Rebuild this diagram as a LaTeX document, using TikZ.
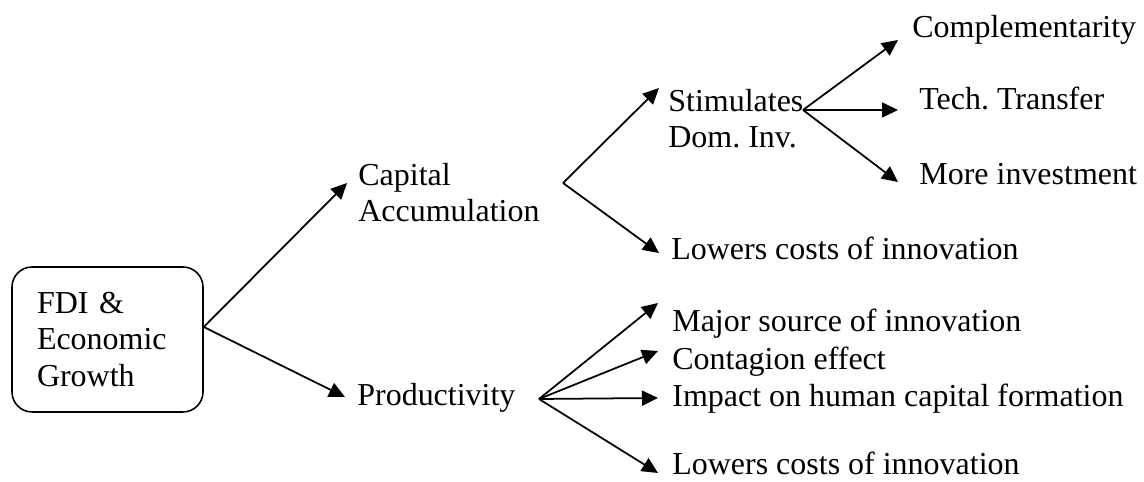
\documentclass[tikz,border=0pt]{standalone}
\usepackage{fontspec}
\setmainfont{Liberation Serif}
\usetikzlibrary{arrows.meta}
\tikzset{%
    growth box/.style={
        draw,
        line width=0.9pt,
        rounded corners=0.4cm,
        align=left,
        text width=2.82cm,
        inner xsep=0.5cm,
        minimum width=3.82cm,
        minimum height=2.9cm
    },
    branch label/.style={
        anchor=base west,
        inner sep=0pt,
        align=left
    },
    branch arrow/.style={
        line width=1pt,
        -{Triangle[length=0.32cm, width=0.3cm]}
    },
}

\begin{document}
\begin{tikzpicture}[x=0.02cm, y=-0.02cm, font=\fontsize{18.2}{21}\selectfont\frenchspacing]
        \useasboundingbox (0,0) rectangle (1144,482);

        \node [growth box] (fdi) at (107.5,339.5) {FDI \&\\Economic\\Growth};

        % first level (base = last line)
        \node [branch label] (capital) at (358,222) {Capital\\Accumulation};
        \node [branch label] (productivity) at (357,406) {Productivity};

        % capital accumulation
        \node [branch label] (stimulates) at (668,148) {Stimulates\\Dom. Inv.};
        \node [branch label] (lowers-cap) at (671,260) {Lowers costs of innovation};

        \node [branch label] (complement) at (912,38) {Complementarity};
        \node [branch label] (transfer) at (919,110) {Tech. Transfer};
        \node [branch label] (investment) at (919,185) {More investment};

        % productivity
        \node [branch label] (major) at (672,332) {Major source of innovation};
        \node [branch label] (contagion) at (672,370) {Contagion effect};
        \node [branch label] (impact) at (672,407) {Impact on human capital formation};
        \node [branch label] (lowers-prod) at (672,475) {Lowers costs of innovation};

        \coordinate (fdi-fork) at ([shift={(0,-12.5)}]fdi.east);
        \coordinate (capital-fork) at (563,183);
        \coordinate (stimulates-fork) at (803,110);
        \coordinate (productivity-fork) at (539,399);

        \foreach \n/\dx/\dy in {capital/-11/-39, productivity/-12/-9}
            \draw [branch arrow] (fdi-fork) -- ([shift={(\dx,\dy)}]\n.base west);

        \foreach \n/\dx/\dy in {stimulates/-9/-60, lowers-cap/-12/-7}
            \draw [branch arrow] (capital-fork) -- ([shift={(\dx,\dy)}]\n.base west);

        \foreach \n/\dx/\dy in {complement/-14/2, transfer/-21/0, investment/-21/-3}
            \draw [branch arrow] (stimulates-fork) -- ([shift={(\dx,\dy)}]\n.base west);

        \foreach \n/\dx/\dy in {major/-14/-29, contagion/-14/-19, impact/-14/-9, lowers-prod/-14/-2}
            \draw [branch arrow] (productivity-fork) -- ([shift={(\dx,\dy)}]\n.base west);

    \end{tikzpicture}
\end{document}
